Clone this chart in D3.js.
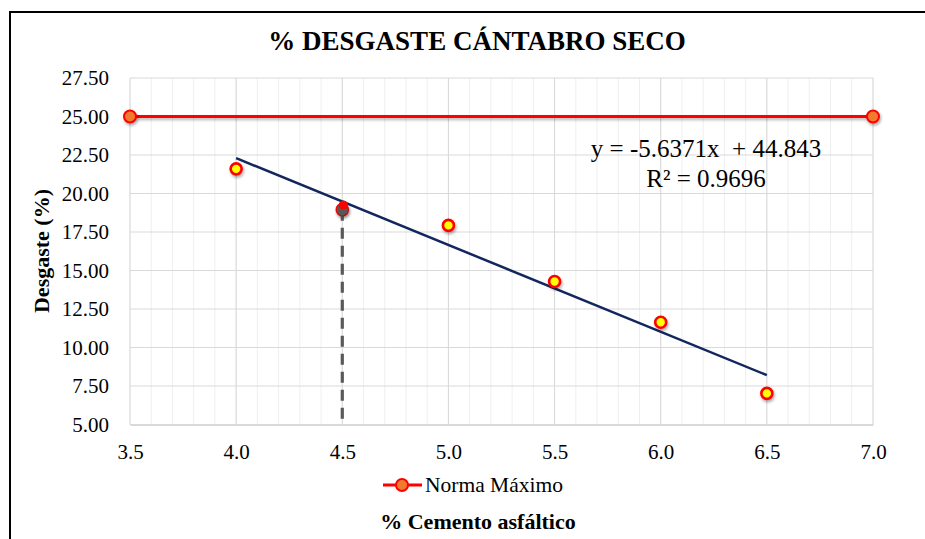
<!DOCTYPE html>
<html>
<head>
<meta charset="utf-8">
<script src="https://cdn.jsdelivr.net/npm/d3@7"></script>
<style>
  html, body { margin: 0; padding: 0; background: #fff; }
  svg { display: block; font-family: "Liberation Serif", "Times New Roman", serif; }
</style>
</head>
<body>
<svg id="chart" width="925" height="539"></svg>
<script>
// ---- data ----
const xValues = [4.0, 4.5, 5.0, 5.5, 6.0, 6.5];
const desgaste = [21.6, 18.95, 17.93, 14.29, 11.64, 7.02];
const normaX = [3.5, 7.0];
const normaY = [25.0, 25.0];
const trendX = [4.0, 6.5];
const trendSlope = -5.6371;
const trendIntercept = 44.843;
const guideX = [4.5, 4.5];
const guideY = [18.95, 5.0];
const selectX = [4.5];
const selectY = [19.25];
const xTicks = [3.5, 4.0, 4.5, 5.0, 5.5, 6.0, 6.5, 7.0];
const xMinorTicks = d3.range(35, 71).map(d => d / 10);
const yTicks = [5.0, 7.5, 10.0, 12.5, 15.0, 17.5, 20.0, 22.5, 25.0, 27.5];
const titleText = "% DESGASTE CÁNTABRO SECO";
const xTitle = "% Cemento asfáltico";
const yTitle = "Desgaste (%)";
const legendLabel = "Norma Máximo";
const eqLine1 = "y = -5.6371x  + 44.843";
const eqLine2 = "R² = 0.9696";

// ---- layout ----
const svg = d3.select("#chart");
const x = d3.scaleLinear().domain([3.5, 7.0]).range([130, 873]);
const y = d3.scaleLinear().domain([5.0, 27.5]).range([424.5, 78]);

const defs = svg.append("defs");
const f = defs.append("filter").attr("id", "shadow").attr("x", "-50%").attr("y", "-50%").attr("width", "200%").attr("height", "200%");
f.append("feDropShadow").attr("dx", 1).attr("dy", 2).attr("stdDeviation", 1.6).attr("flood-color", "#000").attr("flood-opacity", 0.35);
const f2 = defs.append("filter").attr("id", "lineshadow").attr("filterUnits", "userSpaceOnUse")
  .attr("x", 0).attr("y", 0).attr("width", 925).attr("height", 539);
f2.append("feDropShadow").attr("dx", 1).attr("dy", 2).attr("stdDeviation", 1.6).attr("flood-color", "#000").attr("flood-opacity", 0.3);

// outer border
svg.append("rect").attr("x", 10).attr("y", 12).attr("width", 930).attr("height", 540)
  .attr("fill", "#fff").attr("stroke", "#000").attr("stroke-width", 2);

// title
svg.append("text").attr("x", 477).attr("y", 50).attr("text-anchor", "middle")
  .attr("font-size", 27).attr("font-weight", "bold").attr("fill", "#000").text(titleText);

// grid
const grid = svg.append("g");
grid.selectAll("line.vminor").data(xMinorTicks).join("line")
  .attr("x1", d => x(d)).attr("x2", d => x(d)).attr("y1", y(27.5)).attr("y2", y(5))
  .attr("stroke", "#efefef").attr("stroke-width", 1);
grid.selectAll("line.vmajor").data(xTicks).join("line")
  .attr("x1", d => x(d)).attr("x2", d => x(d)).attr("y1", y(27.5)).attr("y2", y(5))
  .attr("stroke", "#d9d9d9").attr("stroke-width", 1);
grid.selectAll("line.hmajor").data(yTicks).join("line")
  .attr("x1", x(3.5)).attr("x2", x(7.0)).attr("y1", d => y(d)).attr("y2", d => y(d))
  .attr("stroke", "#d9d9d9").attr("stroke-width", 1.2);

// axes
const yAxis = svg.append("g").attr("transform", `translate(${x(3.5)},0)`)
  .call(d3.axisLeft(y).tickValues(yTicks).tickFormat(d3.format(".2f")).tickSize(0).tickPadding(21));
yAxis.attr("font-family", null);
yAxis.select(".domain").remove();
yAxis.selectAll("text").attr("font-size", 21).attr("fill", "#000");

const xAxis = svg.append("g").attr("transform", `translate(0,${y(5)})`)
  .call(d3.axisBottom(x).tickValues(xTicks).tickFormat(d3.format(".1f")).tickSize(0).tickPadding(20));
xAxis.attr("font-family", null);
xAxis.select(".domain").attr("stroke", "#d9d9d9").attr("stroke-width", 2);
xAxis.selectAll("text").attr("font-size", 21).attr("fill", "#000");

// Norma line
const line = d3.line().x(d => x(d[0])).y(d => y(d[1]));
const normaPts = normaX.map((v, i) => [v, normaY[i]]);
svg.append("path").datum(normaPts).attr("d", line).attr("fill", "none")
  .attr("stroke", "#ff0000").attr("stroke-width", 3).attr("filter", "url(#lineshadow)");
svg.selectAll("circle.norma").data(normaPts).join("circle")
  .attr("cx", d => x(d[0])).attr("cy", d => y(d[1])).attr("r", 6)
  .attr("fill", "#f07a2e").attr("stroke", "#ff0000").attr("stroke-width", 2).attr("filter", "url(#shadow)");

// trend line
const trendPts = trendX.map(v => [v, trendSlope * v + trendIntercept]);
svg.append("path").datum(trendPts).attr("d", line).attr("fill", "none")
  .attr("stroke", "#12275e").attr("stroke-width", 2.5);

// data points
const dataPts = xValues.map((v, i) => [v, desgaste[i]]);
svg.selectAll("circle.data").data(dataPts).join("circle")
  .attr("cx", d => x(d[0])).attr("cy", d => y(d[1])).attr("r", 5.5)
  .attr("fill", "#ffff00").attr("stroke", "#ff0000").attr("stroke-width", 2.6).attr("filter", "url(#shadow)");

// guide dashed line
const guidePts = guideX.map((v, i) => [v, guideY[i]]);
svg.append("path").datum(guidePts).attr("d", line).attr("fill", "none")
  .attr("stroke", "#595959").attr("stroke-width", 3.2).attr("stroke-dasharray", "11,7");
svg.append("circle").attr("cx", x(guideX[0])).attr("cy", y(guideY[0])).attr("r", 5.5)
  .attr("fill", "#595959").attr("filter", "url(#shadow)");
svg.selectAll("circle.sel").data(selectX.map((v, i) => [v, selectY[i]])).join("circle")
  .attr("cx", d => x(d[0]) + 1).attr("cy", d => y(d[1])).attr("r", 4.5).attr("fill", "#ff0000");

// equation
svg.append("text").attr("x", 706).attr("y", 157).attr("text-anchor", "middle")
  .attr("font-size", 25).attr("fill", "#000").attr("xml:space", "preserve").style("white-space", "pre").text(eqLine1);
svg.append("text").attr("x", 706).attr("y", 187).attr("text-anchor", "middle")
  .attr("font-size", 25).attr("fill", "#000").text(eqLine2);

// legend
const lg = svg.append("g");
lg.append("line").attr("x1", 383).attr("x2", 422).attr("y1", 485).attr("y2", 485)
  .attr("stroke", "#ff0000").attr("stroke-width", 3);
lg.append("circle").attr("cx", 402).attr("cy", 485).attr("r", 6)
  .attr("fill", "#f07a2e").attr("stroke", "#ff0000").attr("stroke-width", 2);
lg.append("text").attr("x", 425).attr("y", 492).attr("font-size", 21.5).attr("fill", "#000").text(legendLabel);

// axis titles
svg.append("text").attr("x", 478).attr("y", 529).attr("text-anchor", "middle")
  .attr("font-size", 22).attr("font-weight", "bold").attr("fill", "#000").text(xTitle);
svg.append("text").attr("transform", "translate(49,251) rotate(-90)").attr("text-anchor", "middle")
  .attr("font-size", 22).attr("font-weight", "bold").attr("fill", "#000").text(yTitle);
</script>
</body>
</html>
